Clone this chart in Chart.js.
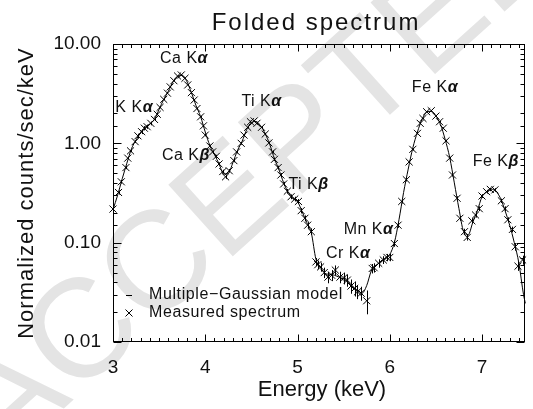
<!DOCTYPE html>
<html>
<head>
<meta charset="utf-8">
<title>Folded spectrum</title>
<script src="https://cdn.jsdelivr.net/npm/chart.js@4.4.1/dist/chart.umd.min.js"></script>
<style>
  html, body { margin: 0; padding: 0; background: #fff; }
</style>
</head>
<body>
<canvas id="spec" width="533" height="409"></canvas>
<script>
// measured spectrum (keV, counts/sec/keV) and its 1-sigma errors
const energy = [
  3.00, 3.06, 3.09, 3.14, 3.16, 3.19, 3.24, 3.27, 3.31, 3.34,
  3.37, 3.41, 3.45, 3.48, 3.51, 3.55, 3.59, 3.62, 3.66, 3.70,
  3.74, 3.78, 3.81, 3.85, 3.88, 3.91, 3.95, 3.98, 4.00, 4.05,
  4.08, 4.12, 4.15, 4.19, 4.22, 4.26, 4.31, 4.34, 4.39, 4.42,
  4.46, 4.49, 4.53, 4.56, 4.61, 4.65, 4.69, 4.73, 4.75, 4.79,
  4.82, 4.85, 4.89, 4.93, 4.97, 5.01, 5.04, 5.08, 5.11, 5.15,
  5.20, 5.22, 5.25, 5.29, 5.33, 5.37, 5.41, 5.46, 5.50, 5.54,
  5.58, 5.62, 5.65, 5.69, 5.75, 5.81, 5.83, 5.88, 5.93, 5.97,
  6.00, 6.05, 6.09, 6.13, 6.18, 6.21, 6.25, 6.30, 6.33, 6.36,
  6.40, 6.45, 6.50, 6.54, 6.58, 6.61, 6.65, 6.68, 6.73, 6.76,
  6.81, 6.84, 6.89, 6.93, 6.97, 7.00, 7.05, 7.09, 7.14, 7.21,
  7.25, 7.28, 7.33, 7.36, 7.39, 7.44
];
const counts = [
  0.218, 0.32, 0.41, 0.57, 0.71, 0.84, 1.04, 1.19, 1.31, 1.42,
  1.47, 1.59, 1.74, 1.96, 2.30, 2.77, 3.20, 3.70, 4.27, 4.76,
  4.88, 4.52, 3.87, 3.24, 2.73, 2.24, 1.85, 1.50, 1.21, 0.94,
  0.82, 0.74, 0.62, 0.52, 0.46, 0.53, 0.67, 0.82, 1.00, 1.21,
  1.45, 1.65, 1.68, 1.59, 1.45, 1.24, 1.01, 0.82, 0.69, 0.57,
  0.48, 0.39, 0.33, 0.29, 0.275, 0.26, 0.21, 0.176, 0.15, 0.129,
  0.064, 0.060, 0.057, 0.050, 0.045, 0.047, 0.053, 0.045, 0.044, 0.042,
  0.0366, 0.0347, 0.032, 0.031, 0.026, 0.055, 0.056, 0.062, 0.067, 0.071,
  0.071, 0.098, 0.15, 0.26, 0.43, 0.65, 0.87, 1.26, 1.59, 1.78,
  2.08, 2.13, 1.88, 1.65, 1.42, 1.06, 0.71, 0.48, 0.28, 0.176,
  0.129, 0.113, 0.166, 0.19, 0.22, 0.295, 0.326, 0.344, 0.34, 0.264,
  0.22, 0.17, 0.136, 0.091, 0.058, 0.067
];
const countErr = [
  0.012, 0.015, 0.017, 0.02, 0.022, 0.025, 0.03, 0.06, 0.07, 0.07,
  0.07, 0.07, 0.06, 0.04, 0.045, 0.05, 0.055, 0.06, 0.065, 0.07,
  0.07, 0.07, 0.065, 0.06, 0.055, 0.05, 0.045, 0.04, 0.035, 0.03,
  0.028, 0.026, 0.024, 0.022, 0.021, 0.022, 0.025, 0.028, 0.032, 0.035,
  0.038, 0.04, 0.04, 0.04, 0.038, 0.035, 0.032, 0.028, 0.026, 0.024,
  0.022, 0.019, 0.017, 0.016, 0.015, 0.015, 0.013, 0.012, 0.011, 0.010,
  0.006, 0.006, 0.006, 0.006, 0.006, 0.006, 0.006, 0.006, 0.006, 0.006,
  0.006, 0.006, 0.005, 0.005, 0.007, 0.006, 0.006, 0.006, 0.006, 0.006,
  0.006, 0.007, 0.009, 0.012, 0.016, 0.02, 0.023, 0.028, 0.032, 0.034,
  0.036, 0.037, 0.035, 0.032, 0.03, 0.026, 0.021, 0.017, 0.013, 0.010,
  0.009, 0.008, 0.010, 0.011, 0.012, 0.013, 0.014, 0.014, 0.014, 0.013,
  0.012, 0.010, 0.009, 0.008, 0.006, 0.007
];

// fitted multiple-Gaussian model
const modelEnergy = [
  3.00, 3.05, 3.10, 3.15, 3.20, 3.25, 3.30, 3.35, 3.40, 3.45,
  3.50, 3.55, 3.60, 3.65, 3.70, 3.75, 3.80, 3.85, 3.90, 3.95,
  4.00, 4.05, 4.10, 4.15, 4.20, 4.25, 4.30, 4.35, 4.40, 4.45,
  4.50, 4.55, 4.60, 4.65, 4.70, 4.75, 4.80, 4.85, 4.90, 4.95,
  5.00, 5.05, 5.10, 5.15, 5.20, 5.25, 5.30, 5.35, 5.40, 5.45,
  5.50, 5.55, 5.60, 5.65, 5.70, 5.75, 5.80, 5.85, 5.90, 5.95,
  6.00, 6.05, 6.10, 6.15, 6.20, 6.25, 6.30, 6.35, 6.40, 6.45,
  6.50, 6.55, 6.60, 6.65, 6.70, 6.75, 6.80, 6.85, 6.90, 6.95,
  7.00, 7.05, 7.10, 7.15, 7.20, 7.25, 7.30, 7.35, 7.40, 7.45, 7.47
];
const modelCounts = [
  0.215, 0.30, 0.44, 0.63, 0.88, 1.08, 1.28, 1.45, 1.57, 1.75,
  2.20, 2.77, 3.35, 4.15, 4.70, 4.85, 4.20, 3.24, 2.40, 1.85,
  1.30, 0.95, 0.77, 0.62, 0.49, 0.50, 0.64, 0.85, 1.05, 1.38,
  1.62, 1.66, 1.50, 1.25, 0.97, 0.70, 0.54, 0.40, 0.32, 0.28,
  0.26, 0.205, 0.16, 0.125, 0.068, 0.056, 0.049, 0.048, 0.047, 0.045,
  0.043, 0.040, 0.036, 0.033, 0.031, 0.037, 0.052, 0.059, 0.064, 0.069,
  0.076, 0.10, 0.17, 0.32, 0.55, 0.90, 1.30, 1.75, 2.05, 2.10,
  1.90, 1.55, 1.10, 0.72, 0.40, 0.22, 0.13, 0.12, 0.16, 0.21,
  0.29, 0.325, 0.345, 0.33, 0.28, 0.21, 0.15, 0.10, 0.062, 0.030, 0.0245
];

// labelled axis values
const xLabelValues = [3, 4, 5, 6, 7];
const yLabelValues = [0.01, 0.1, 1, 10];

// emission-line tags, anchored at (keV, counts/sec/keV)
const lineNames  = ['K K', 'Ca K', 'Ca K', 'Ti K', 'Ti K', 'Cr K', 'Mn K', 'Fe K', 'Fe K'];
const lineGreek  = ['α', 'α', 'β', 'α', 'β', 'α', 'α', 'α', 'β'];
const lineEnergy = [3.23, 3.77, 3.79, 4.61, 5.12, 5.55, 5.77, 6.49, 7.15];
const lineLevel  = [2.27, 7.06, 0.76, 2.61, 0.38, 0.0785, 0.134, 3.6, 0.65];

const FONT = '"Liberation Sans", Arial, sans-serif';
const INK = '#111';

function isOneOf(list, v) {
  return list.some(function(a) { return Math.abs(a - v) < 1e-6 * Math.max(1, a); });
}

function spacedText(ctx, text, x, y, spacing) {
  ctx.letterSpacing = spacing + 'px';
  ctx.fillText(text, x, y);
  ctx.letterSpacing = '0px';
}

const decorations = {
  id: 'decorations',
  beforeDraw: function(chart) {
    const ctx = chart.ctx;
    ctx.save();
    ctx.fillStyle = '#fff';
    ctx.fillRect(0, 0, chart.width, chart.height);
    // pale diagonal stamp behind the plot
    ctx.translate(262, 178);
    ctx.rotate(-42 * Math.PI / 180);
    ctx.font = '140px ' + FONT;
    ctx.fillStyle = '#e4e4e4';
    ctx.textAlign = 'center';
    ctx.textBaseline = 'middle';
    ctx.fillText('ACCEPTED', 0, 0);
    ctx.restore();
  },
  afterDatasetsDraw: function(chart) {
    const ctx = chart.ctx;
    const xs = chart.scales.x, ys = chart.scales.y;
    ctx.save();
    ctx.strokeStyle = '#000';
    ctx.lineWidth = 1;
    ctx.beginPath();
    for (let i = 0; i < energy.length; i++) {
      const px = Math.round(xs.getPixelForValue(energy[i])) + 0.5;
      ctx.moveTo(px, ys.getPixelForValue(counts[i] + countErr[i]));
      ctx.lineTo(px, ys.getPixelForValue(counts[i] - countErr[i]));
    }
    ctx.stroke();
    ctx.restore();
  },
  afterDraw: function(chart) {
    const ctx = chart.ctx;
    const a = chart.chartArea;
    const xs = chart.scales.x, ys = chart.scales.y;
    const L = Math.round(a.left) + 0.5, R = Math.round(a.right) - 0.5;
    const T = Math.round(a.top) + 0.5, B = Math.round(a.bottom) - 0.5;

    ctx.save();
    ctx.strokeStyle = '#000';
    ctx.lineWidth = 1;
    ctx.strokeRect(L, T, R - L, B - T);

    // inward tick marks on all four sides
    ctx.beginPath();
    xs.ticks.forEach(function(t) {
      const px = Math.round(xs.getPixelForValue(t.value)) + 0.5;
      const len = isOneOf(xLabelValues, t.value) ? 7 : 3.5;
      ctx.moveTo(px, B); ctx.lineTo(px, B - len);
      ctx.moveTo(px, T); ctx.lineTo(px, T + len);
    });
    ys.ticks.forEach(function(t) {
      const py = Math.round(ys.getPixelForValue(t.value)) + 0.5;
      const len = isOneOf(yLabelValues, t.value) ? 8 : 4;
      ctx.moveTo(L, py); ctx.lineTo(L + len, py);
      ctx.moveTo(R, py); ctx.lineTo(R - len, py);
    });
    ctx.stroke();

    ctx.fillStyle = INK;
    ctx.textAlign = 'center';
    ctx.textBaseline = 'middle';

    // title and axis titles
    ctx.font = '24px ' + FONT;
    spacedText(ctx, 'Folded spectrum', 316, 23, 2);
    ctx.font = '22px ' + FONT;
    spacedText(ctx, 'Energy (keV)', 322, 390, 0);
    ctx.save();
    ctx.translate(27, 193);
    ctx.rotate(-Math.PI / 2);
    spacedText(ctx, 'Normalized counts/sec/keV', 0, 0, 1);
    ctx.restore();

    // emission line tags
    ctx.textAlign = 'left';
    for (let i = 0; i < lineNames.length; i++) {
      const cx = xs.getPixelForValue(lineEnergy[i]);
      const cy = ys.getPixelForValue(lineLevel[i]);
      ctx.font = '16px ' + FONT;
      ctx.letterSpacing = '0.5px';
      const w1 = ctx.measureText(lineNames[i]).width;
      ctx.font = 'bold italic 16px ' + FONT;
      const w2 = ctx.measureText(lineGreek[i]).width;
      const x0 = cx - (w1 + w2) / 2;
      ctx.font = '16px ' + FONT;
      ctx.fillText(lineNames[i], x0, cy);
      ctx.font = 'bold italic 16px ' + FONT;
      ctx.fillText(lineGreek[i], x0 + w1, cy);
      ctx.letterSpacing = '0px';
    }

    // key in the lower-left corner
    const kx = a.left + 16, k1 = a.bottom - 47, k2 = a.bottom - 29;
    ctx.beginPath();
    ctx.moveTo(kx - 3, k1 + 0.5); ctx.lineTo(kx + 3, k1 + 0.5);
    ctx.moveTo(kx - 3.5, k2 - 3.5); ctx.lineTo(kx + 3.5, k2 + 3.5);
    ctx.moveTo(kx - 3.5, k2 + 3.5); ctx.lineTo(kx + 3.5, k2 - 3.5);
    ctx.stroke();
    ctx.font = '16px ' + FONT;
    spacedText(ctx, 'Multiple\u2212Gaussian model', a.left + 36, k1, 0.6);
    spacedText(ctx, 'Measured spectrum', a.left + 36, k2, 0.6);
    ctx.restore();
  }
};

const toPoints = function(xv, yv) {
  return xv.map(function(x, i) { return { x: x, y: yv[i] }; });
};

new Chart(document.getElementById('spec'), {
  type: 'scatter',
  data: {
    datasets: [
      {
        label: 'Multiple\u2212Gaussian model',
        data: toPoints(modelEnergy, modelCounts),
        showLine: true,
        borderColor: '#000',
        borderWidth: 1,
        pointRadius: 0,
        cubicInterpolationMode: 'monotone',
        clip: false
      },
      {
        label: 'Measured spectrum',
        data: toPoints(energy, counts),
        showLine: false,
        pointStyle: 'crossRot',
        pointRadius: 5,
        borderColor: '#000',
        borderWidth: 1,
        clip: false
      }
    ]
  },
  options: {
    responsive: false,
    animation: false,
    layout: { padding: { left: 0, right: 3, top: 44, bottom: 0 } },
    plugins: {
      legend: { display: false },
      tooltip: { enabled: false },
      title: { display: false }
    },
    scales: {
      x: {
        type: 'linear',
        min: 3,
        max: 7.47,
        grid: { display: false, drawTicks: false },
        border: { display: false },
        ticks: {
          stepSize: 0.1,
          maxTicksLimit: 100,
          includeBounds: false,
          autoSkip: false,
          maxRotation: 0,
          padding: 14,
          color: INK,
          font: { family: FONT, size: 19 },
          callback: function(v) { return isOneOf(xLabelValues, v) ? String(Math.round(v)) : ''; }
        },
        afterFit: function(scale) { scale.height = 67; }
      },
      y: {
        type: 'logarithmic',
        min: 0.01,
        max: 10,
        grid: { display: false, drawTicks: false },
        border: { display: false },
        ticks: {
          autoSkip: false,
          padding: 12,
          color: INK,
          font: { family: FONT, size: 19 },
          callback: function(v) { return isOneOf(yLabelValues, v) ? Number(v).toFixed(2) : ''; }
        },
        afterFit: function(scale) { scale.width = 113; }
      }
    }
  },
  plugins: [decorations]
});
</script>
</body>
</html>
